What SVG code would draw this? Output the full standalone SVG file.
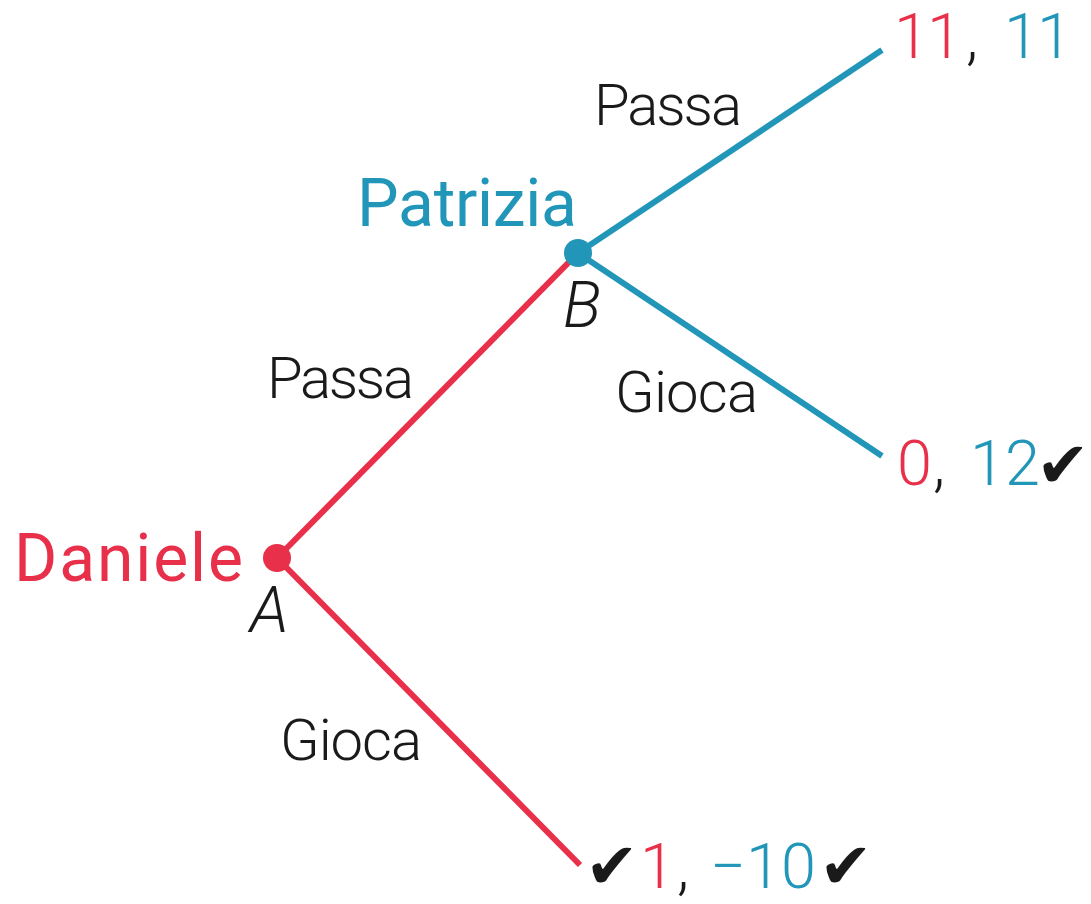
<svg xmlns="http://www.w3.org/2000/svg" width="1091" height="904" viewBox="0 0 1091 904">
<style>
.t{font-family:Roboto,"Liberation Sans",Arial,sans-serif;font-weight:300;}
.lbl{font-size:58px;fill:#1a1a1a;}
.pay{font-size:63px;}
.r{fill:#e8304a;}
.b{fill:#2196b8;}
.k{fill:#1a1a1a;}
.pl{font-size:66px;font-weight:400;}
.it{font-size:64px;font-style:italic;fill:#1a1a1a;}
.ck{font-family:"DejaVu Sans",sans-serif;font-size:64px;fill:#1a1a1a;}
.er{stroke:#e8304a;stroke-width:6;fill:none;}
.eb{stroke:#2196b8;stroke-width:6;fill:none;}
</style>
<rect width="1091" height="904" fill="#fff"/>
<g id="connectors">
<line class="er" x1="277" y1="558" x2="578" y2="253"/>
<line class="er" x1="277" y1="558" x2="580" y2="865"/>
<line class="eb" x1="578" y1="253" x2="882" y2="50"/>
<line class="eb" x1="578" y1="253" x2="882" y2="456"/>
</g>
<g id="nodeA">
<circle cx="277" cy="558" r="14" fill="#e8304a"/>
<text class="t pl r" x="14" y="581" textLength="229">Daniele</text>
<text class="t it" x="250" y="632">A</text>
</g>
<g id="nodeB">
<circle cx="578" cy="253" r="14" fill="#2196b8"/>
<text class="t pl b" x="357" y="226" textLength="220">Patrizia</text>
<text class="t it" x="563" y="327">B</text>
</g>
<g id="labels">
<text class="t lbl" x="594" y="125" textLength="148">Passa</text>
<text class="t lbl" x="267" y="398" textLength="147">Passa</text>
<text class="t lbl" x="615" y="412" textLength="143">Gioca</text>
<text class="t lbl" x="280" y="760" textLength="142">Gioca</text>
</g>
<g id="payoff1">
<text class="t pay r" x="894" y="58" letter-spacing="-2">11</text>
<text class="t pay k" x="966" y="58">,</text>
<text class="t pay b" x="1004" y="58" letter-spacing="-2">11</text>
</g>
<g id="payoff2">
<text class="t pay r" x="897" y="485">0</text>
<text class="t pay k" x="933" y="485">,</text>
<text class="t pay b" x="970" y="485">12</text>
<text class="ck" x="1036" y="487">✔</text>
</g>
<g id="payoff3">
<text class="ck" x="585" y="888">✔</text>
<text class="t pay r" x="640" y="888">1</text>
<text class="t pay k" x="677" y="888">,</text>
<text class="t pay b" x="710" y="888">−10</text>
<text class="ck" x="819" y="888">✔</text>
</g>
</svg>
